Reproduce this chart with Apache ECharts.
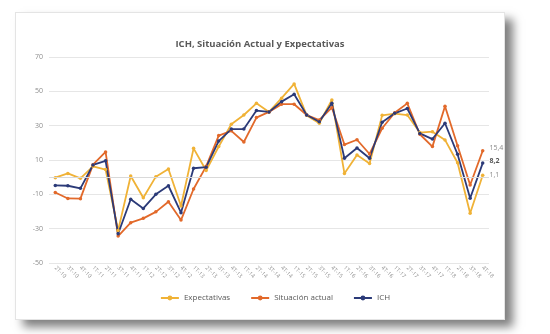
<!DOCTYPE html>
<html><head><meta charset="utf-8">
<script src="https://cdn.jsdelivr.net/npm/echarts@6/dist/echarts.min.js"></script>
<style>
html,body{margin:0;padding:0;background:#fff;width:550px;height:334px;overflow:hidden;}
#card{position:absolute;left:15px;top:12px;width:488px;height:306px;background:#fff;border:1px solid #e4e4e4;box-shadow:8px 7px 9px rgba(0,0,0,0.5);}
#chart{position:absolute;left:0;top:0;width:550px;height:334px;}
</style></head><body>
<div id="card"></div>
<div id="chart"></div>
<script>
const categories = ["2T-10","3T-10","4T-10",
 "1T-11","2T-11","3T-11","4T-11",
 "1T-12","2T-12","3T-12","4T-12",
 "1T-13","2T-13","3T-13","4T-13",
 "1T-14","2T-14","3T-14","4T-14",
 "1T-15","2T-15","3T-15","4T-15",
 "1T-16","2T-16","3T-16","4T-16",
 "1T-17","2T-17","3T-17","4T-17",
 "1T-18","2T-18","3T-18","4T-18"];
const expectativas = [-0.3, 2.2, -0.7, 6.3, 4.4, -31, 0.7, -12, 0.3, 4.8, -16.8, 16.8, 3.9, 17.8, 30.8, 36.2, 43, 38, 46, 54.3, 36, 31.4, 45, 2.2, 12.9, 8, 36, 37, 36.2, 26, 26.5, 21.7, 8.4, -21, 1.1];
const situacionActual = [-8.9, -12.4, -12.5, 7.3, 14.7, -34.3, -26.5, -24, -20.2, -14.3, -25, -6.9, 6.3, 24.2, 27, 20.5, 34.7, 38, 42.5, 42.5, 36.2, 33.3, 40.5, 19, 21.8, 13.5, 28.5, 37.5, 43, 25, 17.8, 41.3, 18.3, -4.6, 15.4];
const ich = [-4.8, -5, -6.5, 7.1, 9.5, -33, -12.9, -18.2, -10, -5, -20.7, 5.2, 5.8, 21, 28, 28, 38.8, 38, 44, 48.3, 36.2, 32.3, 43, 11, 17, 11, 32, 37.2, 40, 25.5, 22.2, 31.4, 13.3, -12.3, 8.2];
const yTicks = {min: -50, max: 70, interval: 20};

const FONT = '"Open Sans", sans-serif';
function lastLabel(color, bold, dy) {
  return {
    show: true, position: 'right', distance: 5, offset: [0, dy],
    fontFamily: FONT, fontSize: 7, color: color, fontWeight: bold ? 'bold' : 'normal',
    formatter: p => p.dataIndex === categories.length - 1 ? String(p.value).replace('.', ',') : ''
  };
}
function mkSeries(name, data, color, label) {
  return {
    name, type: 'line', data, color,
    symbol: 'circle', symbolSize: 3.5, showSymbol: true,
    lineStyle: {width: 1.8, color}, itemStyle: {color},
    label, emphasis: {disabled: true}
  };
}
const chart = echarts.init(document.getElementById('chart'), null, {renderer: 'canvas'});
const s1 = mkSeries('Expectativas', expectativas, '#f0b236', lastLabel('#8a8a8a', false, 0));
const s2 = mkSeries('Situación actual', situacionActual, '#e2692a', lastLabel('#8a8a8a', false, -3));
const s3 = mkSeries('ICH', ich, '#2b3a78', lastLabel('#555', true, -2));
s1.markLine = {silent: true, symbol: 'none', label: {show: false},
  lineStyle: {color: '#d9d9d9', width: 1, type: 'solid'}, data: [{yAxis: 0}]};
chart.setOption({
  animation: false,
  backgroundColor: 'transparent',
  title: {text: 'ICH, Situación Actual y Expectativas', left: 255, top: 34, textAlign: 'center',
    textStyle: {fontFamily: FONT, fontSize: 9.5, fontWeight: 'bold', color: '#595959'}},
  grid: {left: 49, right: 61, top: 57, bottom: 71, containLabel: false},
  legend: {bottom: 27, left: 'center', itemWidth: 18, itemHeight: 6, itemGap: 20,
    textStyle: {fontFamily: FONT, fontSize: 8, color: '#595959'},
    data: ['Expectativas', 'Situación actual', 'ICH']},
  xAxis: {type: 'category', data: categories, boundaryGap: true,
    axisLine: {show: false, onZero: false}, axisTick: {show: false},
    axisLabel: {rotate: -45, fontFamily: FONT, fontSize: 5.5, color: '#8c8c8c', margin: 4, interval: 0}},
  yAxis: {type: 'value', min: yTicks.min, max: yTicks.max, interval: yTicks.interval,
    axisLine: {show: false}, axisTick: {show: false},
    axisLabel: {fontFamily: FONT, fontSize: 7, color: '#8c8c8c', margin: 6},
    splitLine: {lineStyle: {color: '#e6e6e6', width: 1}}},
  series: [s1, s2, s3]
});
</script>
</body></html>
